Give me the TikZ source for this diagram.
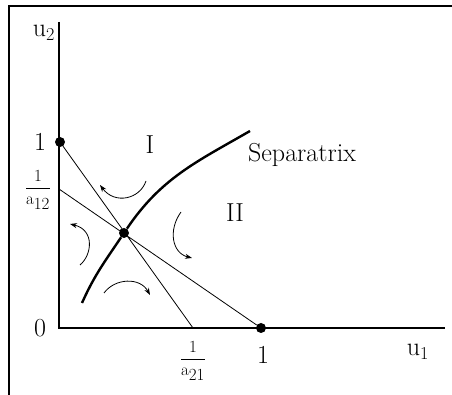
\documentclass[tikz,border=0pt]{standalone}
\usepackage{fix-cm}
\usepackage{fontspec}
\usepackage{amsmath}
\usetikzlibrary{arrows.meta}

\begin{document}
\begin{tikzpicture}[x=1pt,y=1pt,
		font=\fontsize{26}{30}\selectfont,
		dot/.style={circle,fill,inner sep=0pt,minimum size=10pt},
		flow/.style={line width=0.8pt,-{Stealth[length=7pt,width=5pt]}},
		frac/.style={font=\fontsize{17}{20}\selectfont}]
		
		\useasboundingbox (0,0) rectangle (452,395);
		\draw[line width=2pt] (9,0) -- (9,389) -- (452,389);
		
		\coordinate (o) at (59,67);
		\coordinate (ytop) at (59,373);
		\coordinate (xend) at (445,67);
		\coordinate (a12) at (59,206);
		\coordinate (a21) at (193,67);
		\coordinate (sa) at (82,92);
		\coordinate (sb) at (250,264);
		
		\node[dot] (p2) at (60,253) {};
		\node[dot] (p1) at (261,67) {};
		\node[dot] (eq) at (124,162) {};
		
		\node (u2) at (44,362) {u$_2$};
		\node (u1) at (418,43) {u$_1$};
		\node (one2) at (40,253) {1};
		\node (zero) at (40,67) {0};
		\node (one1) at (263,40) {1};
		\node[frac] (f12) at (38,205) {$\dfrac{1}{\mathrm{a}_{\textstyle 12}}$};
		\node[frac] (f21) at (193,34) {$\dfrac{1}{\mathrm{a}_{\textstyle 21}}$};
		\node (r1) at (150,250) {I};
		\node (r2) at (235,182) {II};
		\node (sep) at (302,240) {Separatrix};
		
		\draw[line width=1.5pt] (ytop) -- (o) -- (xend);
		\draw[line width=0.8pt] (p2) -- (a21)
		(a12) -- (p1);
		\draw[line width=2.4pt] (sa) to[out=66,in=236] (eq) to[out=56,in=210] (sb);
		
		% flow around the saddle
		\draw[flow] (146,214) .. controls (140,196) and (115,190) .. (100,210);
		\draw[flow] (80,130) .. controls (92,140) and (95,165) .. (70,171);
		\draw[flow] (104,102) .. controls (115,117) and (140,118) .. (150,100);
		\draw[flow] (181,183) .. controls (168,165) and (172,142) .. (192,137);
		
	\end{tikzpicture}
\end{document}
